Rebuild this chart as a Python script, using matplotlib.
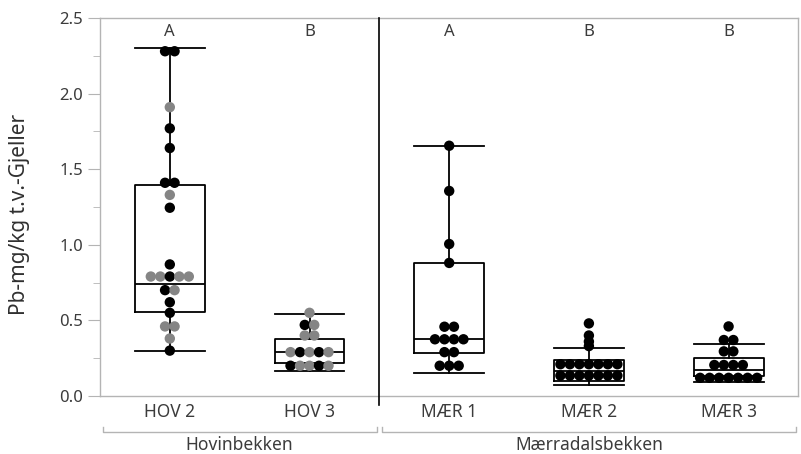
"""
Pb i gjeller: boksplott per stasjon med enkeltpunkter (Hovinbekken / Mærradalsbekken).
"""

import matplotlib

matplotlib.use("Agg")

import matplotlib.pyplot as plt
import matplotlib.transforms as mtransforms
import numpy as np

plt.rcParams["font.family"] = ["Noto Sans", "DejaVu Sans"]

# ---------------------------------------------------------------------------
# Data
# ---------------------------------------------------------------------------

stations = ["HOV 2", "HOV 3", "MÆR 1", "MÆR 2", "MÆR 3"]
letters = ["A", "B", "A", "B", "B"]
rivers = ["Hovinbekken", "Mærradalsbekken"]
river_span = [(0, 1), (2, 4)]

# box statistics per station
whislo = [0.30, 0.167, 0.154, 0.075, 0.095]
q1 = [0.555, 0.22, 0.284, 0.10, 0.13]
med = [0.74, 0.29, 0.375, 0.165, 0.172]
q3 = [1.395, 0.377, 0.88, 0.235, 0.25]
whishi = [2.30, 0.54, 1.655, 0.32, 0.345]

# individual values, left-to-right order within rows of equal value
hov2_vals = [2.28, 2.28, 1.91, 1.77, 1.64, 1.41, 1.41, 1.33, 1.245, 0.87,
             0.79, 0.79, 0.79, 0.79, 0.79, 0.70, 0.70, 0.62, 0.55, 0.46,
             0.46, 0.38, 0.30]
hov2_cols = ["k", "k", "g", "k", "k", "k", "k", "g", "k", "k",
             "g", "g", "k", "g", "g", "k", "g", "k", "k", "g",
             "g", "g", "k"]
hov3_vals = [0.55, 0.47, 0.47, 0.40, 0.40, 0.29, 0.29, 0.29, 0.29, 0.29,
             0.20, 0.20, 0.20, 0.20, 0.20]
hov3_cols = ["g", "k", "g", "g", "g", "g", "k", "g", "k", "g",
             "k", "g", "g", "k", "g"]
maer1_vals = [1.655, 1.356, 1.005, 0.88, 0.458, 0.458, 0.375, 0.375, 0.375,
              0.375, 0.29, 0.29, 0.20, 0.20, 0.20]
maer2_vals = [0.48, 0.40, 0.36, 0.33] + [0.21] * 7 + [0.135] * 7
maer3_vals = [0.46, 0.37, 0.37, 0.295, 0.295] + [0.205] * 4 + [0.12] * 7

values = [hov2_vals, hov3_vals, maer1_vals, maer2_vals, maer3_vals]
colours = [hov2_cols, hov3_cols, ["k"] * len(maer1_vals),
           ["k"] * len(maer2_vals), ["k"] * len(maer3_vals)]

COLMAP = {"k": "#000000", "g": "#858585"}
GRID = "#b4b4b4"
TXT = "#3c3c3c"


def _swarm_offsets(vals, step=0.068):
    """Spread points with identical values sideways, keeping list order."""
    vals = np.asarray(vals)
    off = np.zeros(len(vals))
    for v in np.unique(vals):
        idx = np.where(vals == v)[0]
        n = len(idx)
        off[idx] = (np.arange(n) - (n - 1) / 2.0) * step
    return off


# ---------------------------------------------------------------------------
# Figure
# ---------------------------------------------------------------------------

fig = plt.figure(figsize=(8.01, 4.54), dpi=100)
ax = fig.add_axes([0.1248, 0.1278, 0.872, 0.8326])

stats = [
    dict(whislo=whislo[i], q1=q1[i], med=med[i], q3=q3[i], whishi=whishi[i], fliers=[])
    for i in range(len(stations))
]
line = dict(color="black", linewidth=1.3)
ax.bxp(
    stats,
    positions=range(len(stations)),
    widths=0.5,
    capwidths=0.5,
    showfliers=False,
    boxprops=line,
    whiskerprops=line,
    capprops=line,
    medianprops=line,
    zorder=2,
)

for i, (vals, cols) in enumerate(zip(values, colours)):
    x = i + _swarm_offsets(vals)
    ax.scatter(x, vals, s=56, c=[COLMAP[c] for c in cols], edgecolors="none", zorder=3)
    ax.text(i, 2.41, letters[i], ha="center", va="center", fontsize=12, color=TXT)

ax.set_xlim(-0.5, 4.5)
ax.set_ylim(0, 2.5)
ax.set_xticks(range(len(stations)))
ax.set_xticklabels(stations, fontsize=12.5, color=TXT)
ax.tick_params(axis="x", length=0, pad=5)
ax.set_yticks(np.arange(0, 2.51, 0.5))
ax.set_yticks(np.arange(0.25, 2.5, 0.5), minor=True)
ax.set_yticklabels([f"{v:.1f}" for v in np.arange(0, 2.51, 0.5)], fontsize=12, color=TXT)
ax.tick_params(axis="y", which="major", length=9, color=GRID, pad=3)
ax.tick_params(axis="y", which="minor", length=5, color=GRID)
for sp in ax.spines.values():
    sp.set_color(GRID)
    sp.set_linewidth(1.0)

ax.set_ylabel("Pb-mg/kg t.v.-Gjeller", fontsize=15, color="#303030")
ax.yaxis.set_label_coords(-0.10, 0.48)

# divider between the two streams
trans = mtransforms.blended_transform_factory(ax.transData, ax.transAxes)
ax.plot([1.5, 1.5], [-0.025, 1.0], color="black", linewidth=1.2,
        transform=trans, clip_on=False, zorder=4)

# group brackets under the station labels
for name, (a, b) in zip(rivers, river_span):
    x0, x1 = a - 0.48, b + 0.48
    ax.plot([x0, x0, x1, x1], [-0.083, -0.095, -0.095, -0.083], color=GRID,
            linewidth=1.0, transform=trans, clip_on=False)
    ax.text((a + b) / 2.0, -0.13, name, ha="center", va="center",
            fontsize=12.5, color=TXT, transform=trans)

fig.savefig("out.png", dpi=100)
plt.close(fig)
